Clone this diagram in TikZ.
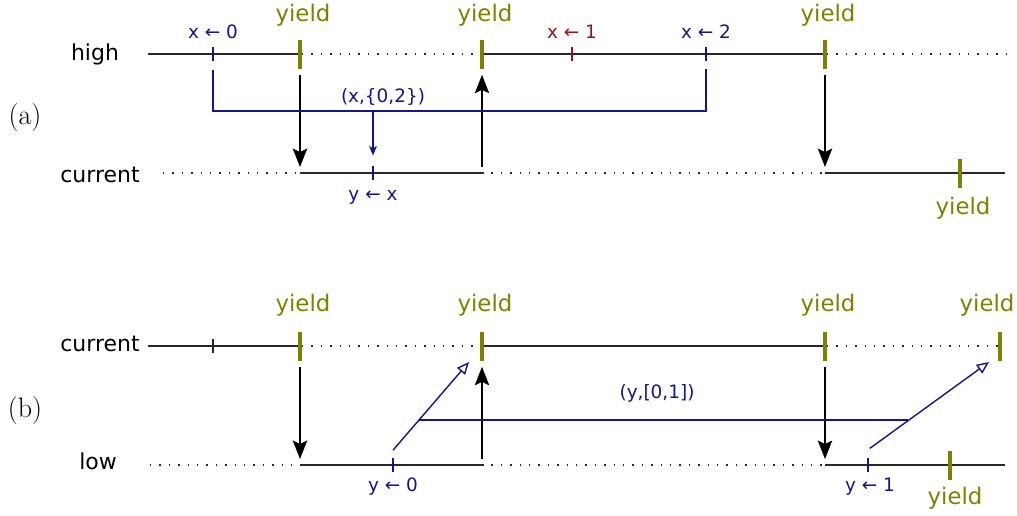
\documentclass[tikz,border=0pt]{standalone}
\usepackage{fontspec}
\newfontfamily\dejavu{DejaVu Sans}
\usepackage{tikz}
\usetikzlibrary{arrows.meta,positioning,backgrounds}
\usepackage{xcolor}
\definecolor{yieldc}{RGB}{128,128,0}
\definecolor{varc}{RGB}{20,20,140}
\definecolor{otherc}{RGB}{150,20,20}
\definecolor{lanec}{RGB}{40,40,40}

\begin{document}
\begin{tikzpicture}[
  x=0.02cm, y=-0.02cm,
  lane/.style={draw=lanec, line width=0.85pt},
  idle/.style={draw=lanec, line width=0.85pt, dash pattern=on 0.85pt off 4.5pt},
  tickmark/.style={fill=#1, inner sep=0pt, minimum width=0.8pt, minimum height=8.5pt},
  yieldmark/.style={fill=yieldc, inner sep=0pt, minimum width=1.8pt, minimum height=16.5pt},
  lanename/.style={font=\dejavu\fontsize{12.5}{15}\selectfont},
  txt/.style={font=\dejavu\fontsize{10.5}{12}\selectfont, text=#1},
  ylabel/.style={font=\dejavu\fontsize{13}{15}\selectfont, text=yieldc},
  panel/.style={font=\fontsize{16}{18}\selectfont},
  flow/.style={draw=black, line width=0.85pt, -{Stealth[length=10.5pt,width=8.2pt,inset=2pt]},
    shorten <=3.4pt, shorten >=3.4pt},
  varline/.style={draw=varc, line width=0.8pt},
  varflow/.style={varline, -{Stealth[length=5.5pt,width=4.5pt,inset=1.5pt]}},
  openflow/.style={varline, -{Triangle[open,length=7pt,width=6pt]}},
]
\useasboundingbox (0,0) rectangle (1017,515);

% Panel (a): high lane
\node[panel] (pa) at (25,117) {(a)};
\node[lanename] (high) at (95,54) {high};
\coordinate (h0) at (148,54);
\coordinate (hend) at (1007,54);
\foreach \n/\x in {1/300,2/482,3/825} {
  \node[yieldmark] (hy\n) at (\x,54) {};
  \node[ylabel] (hyt\n) at (\x+3,15) {yield};
}
\node[tickmark=varc] (hx0) at (213,54) {};
\node[txt=varc] (hx0t) at (213,32) {x ← 0};
\node[tickmark=otherc] (hx1) at (572,54) {};
\node[txt=otherc] (hx1t) at (572,32) {x ← 1};
\node[tickmark=varc] (hx2) at (706,54) {};
\node[txt=varc] (hx2t) at (706,32) {x ← 2};

% Panel (a): current lane
\node[lanename] (curA) at (100,175) {current};
\coordinate (c0) at (163,173);
\foreach \n/\x in {1/300,2/482,3/825} {
  \coordinate (ca\n) at (\x,173);
}
\coordinate (cend) at (1005,173);
\node[tickmark=varc] (cy) at (373,173) {};
\node[txt=varc] (cyt) at (373,197) {y ← x};
\node[yieldmark] (cy4) at (960,173) {};
\node[ylabel] (cyt4) at (963,208) {yield};

\begin{scope}[on background layer]
  \draw[lane] (h0) -- (hy1);
  \draw[idle] (hy1) -- (hy2);
  \draw[lane] (hy2) -- (hy3);
  \draw[idle] (hy3) -- (hend);
  \draw[idle] (c0) -- (ca1);
  \draw[lane] (ca1) -- (ca2);
  \draw[idle] (ca2) -- (ca3);
  \draw[lane] (ca3) -- (cend);
\end{scope}

\draw[flow] (hy1) -- (ca1);
\draw[flow] (ca2) -- (hy2);
\draw[flow] (hy3) -- (ca3);

% Constraint on x
\coordinate (pairx) at (373,111);
\draw[varline] ([yshift=-4.5pt]hx0.south) |- (pairx) -| ([yshift=-4pt]hx2.south);
\node[txt=varc] (pairxt) at (383,97) {(x,\{0,2\})};
\draw[varflow, shorten >=5.5pt] (pairx) -- (cy);

% Panel (b): current lane
\node[panel] (pb) at (25,410) {(b)};
\node[lanename] (curB) at (100,344) {current};
\coordinate (b0) at (148,346);
\foreach \n/\x/\t in {1/300/303,2/482/485,3/825/828,4/1000/987} {
  \node[yieldmark] (by\n) at (\x,346) {};
  \node[ylabel] (byt\n) at (\t,305) {yield};
}
\node[tickmark=lanec] (bx) at (213,346) {};

% Panel (b): low lane
\node[lanename] (low) at (98,461) {low};
\coordinate (l0) at (150,465);
\foreach \n/\x in {1/300,2/482,3/825} {
  \coordinate (l\n) at (\x,465);
}
\coordinate (lend) at (1005,465);
\node[tickmark=varc] (ly0) at (393,465) {};
\node[txt=varc] (lyt0) at (393,487) {y ← 0};
\node[tickmark=varc] (ly1) at (868,465) {};
\node[txt=varc] (lyt1) at (870,487) {y ← 1};
\node[yieldmark] (ly4) at (950,465) {};
\node[ylabel] (lyt4) at (955,498) {yield};

\begin{scope}[on background layer]
  \draw[lane] (b0) -- (by1);
  \draw[idle] (by1) -- (by2);
  \draw[lane] (by2) -- (by3);
  \draw[idle] (by3) -- (by4);
  \draw[idle] (l0) -- (l1);
  \draw[lane] (l1) -- (l2);
  \draw[idle] (l2) -- (l3);
  \draw[lane] (l3) -- (lend);
\end{scope}

\draw[flow] (by1) -- (l1);
\draw[flow] (l2) -- (by2);
\draw[flow] (by3) -- (l3);

% Constraint on y
\coordinate (tgt1) at (469,362);
\coordinate (tgt2) at (989,362);
\draw[openflow] ([yshift=4pt]ly0.north) -- (tgt1);
\draw[openflow] ([xshift=1pt,yshift=5pt]ly1.north) -- (tgt2);
\coordinate (pairl) at (419,420);
\coordinate (pairr) at (908,420);
\draw[varline] (pairl) -- (pairr);
\node[txt=varc] (pairyt) at (657,393) {(y,[0,1])};
\end{tikzpicture}
\end{document}
